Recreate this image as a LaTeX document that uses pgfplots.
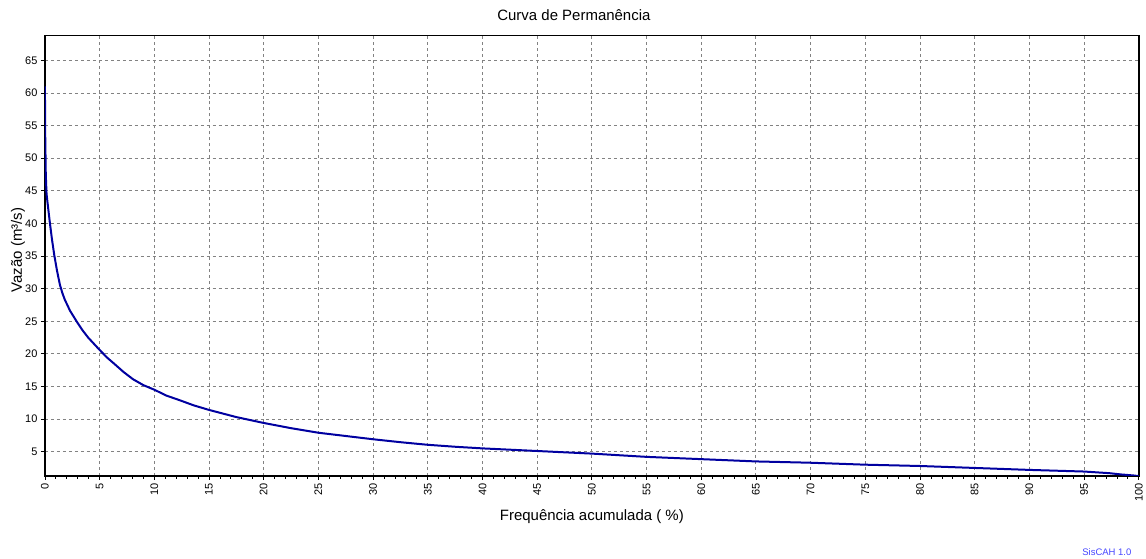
\documentclass[border=0pt]{standalone}
\usepackage{fontspec}
\setmainfont{Liberation Sans}
\usepackage{pgfplots}
\pgfplotsset{compat=1.18}
\definecolor{curve}{RGB}{0,0,160}
\definecolor{gridc}{RGB}{130,130,130}
\definecolor{brand}{RGB}{70,70,255}

\begin{document}
\begin{tikzpicture}
\begin{axis}[
    scale only axis,
    width=1096pt, height=441pt,
    xmin=0, xmax=100, ymin=1.3, ymax=68.8,
    xtick distance=5, minor x tick num=4,
    ytick={5,10,...,65},
    tick align=outside, xtick pos=left, ytick pos=left,
    major tick length=4pt, minor tick length=3pt,
    tick style={black, line width=0.8pt},
    axis line style={black, line width=1.6pt},
    xmajorgrids, ymajorgrids,
    major grid style={gridc, line width=0.9pt, dash pattern=on 3pt off 3pt},
    /pgf/number format/assume math mode=true,
    ticklabel style={font=\fontsize{11}{11}\selectfont},
    xticklabel style={rotate=90, anchor=east},
    title={Curva de Permanência},
    title style={font=\fontsize{15}{15}\selectfont, at={(axis description cs:0.4836,1.032)}, anchor=center},
    xlabel={Frequência acumulada ( \%)},
    xlabel style={font=\fontsize{15}{15}\selectfont, at={(axis description cs:0.5,-0.0937)}, anchor=center},
    ylabel={Vazão (m³/s)},
    ylabel style={font=\fontsize{15}{15}\selectfont, at={(axis description cs:-0.0246,0.513)}, anchor=center},
]
\addplot[curve, line width=2pt] coordinates {
  (0,61) (0.03,53.3) (0.08,47.5) (0.15,44.5) (0.3,42.3) (0.46,40) (0.65,37.5)
  (0.85,35.2) (1.1,32.8) (1.37,30.6) (1.6,29.3) (1.82,28.3) (2.3,26.6) (2.89,25) (3.4,23.7)
  (3.95,22.5) (5,20.6) (5.7,19.4) (6.39,18.4) (7.2,17.2) (8.06,16.1) (9,15.2)
  (10,14.5) (11.1,13.6) (12.3,12.9) (13.6,12.1) (15,11.4) (17.5,10.3) (20,9.4)
  (22.5,8.6) (25,7.9) (27.5,7.4) (30,6.9) (32.5,6.45) (35,6.05) (37.5,5.75)
  (40,5.5) (45,5.1) (50,4.7) (55,4.2) (60,3.85) (65,3.5) (70,3.3) (75,3.0)
  (80,2.8) (85,2.5) (90,2.2) (95,1.95) (97.3,1.7) (98.4,1.5) (99.5,1.35) (100,1.25)
};
\coordinate (BR) at (axis description cs:0.9964,-0.173);
\coordinate (BL) at (axis description cs:-0.04106,-0.1889);
\coordinate (TR) at (axis description cs:1.00456,1.08095);
\end{axis}
\node[brand, font=\fontsize{9.5}{9.5}\selectfont, anchor=east] at (BR) {SisCAH 1.0};
\path (BL) rectangle (TR);
\end{tikzpicture}
\end{document}
